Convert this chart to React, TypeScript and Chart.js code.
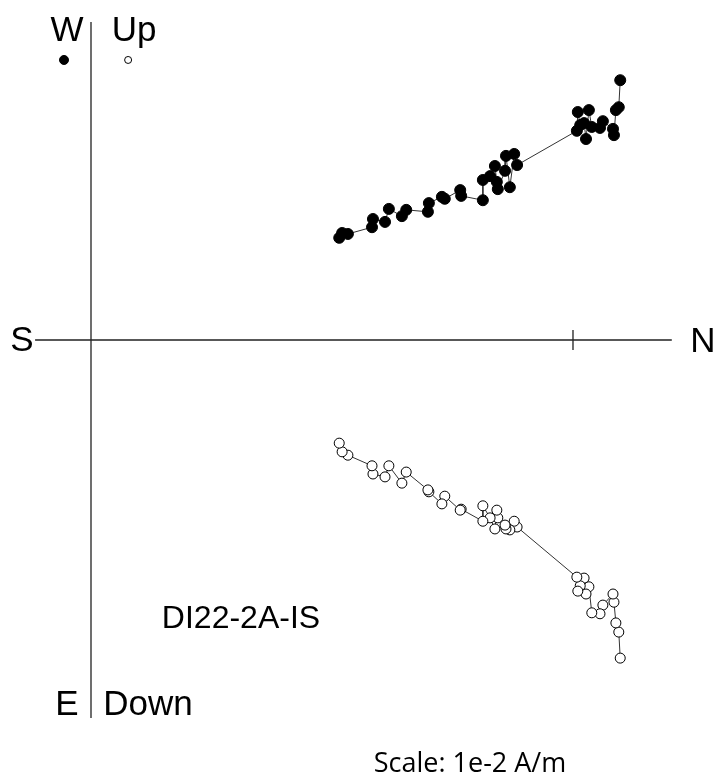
import React, { useEffect, useRef } from "react";
import { Chart, registerables } from "chart.js";

Chart.register(...registerables);

// Demagnetization steps (units of 1e-2 A/m)
const northValues = [
  1.098, 1.095, 1.089, 1.085, 1.083, 1.062, 1.056, 1.039, 1.033, 1.027, 1.023, 1.015, 1.01, 1.008,
  0.884, 0.878, 0.869, 0.861, 0.859, 0.844, 0.842, 0.838, 0.828, 0.813, 0.813, 0.768, 0.766,
  0.734, 0.728, 0.701, 0.699, 0.654, 0.645, 0.618, 0.61, 0.585, 0.583, 0.533, 0.521, 0.515,
];
const westValues = [
  0.539, 0.483, 0.477, 0.425, 0.438, 0.454, 0.44, 0.442, 0.477, 0.417, 0.45, 0.446, 0.473, 0.434,
  0.363, 0.386, 0.317, 0.382, 0.351, 0.313, 0.328, 0.361, 0.34, 0.332, 0.29, 0.299, 0.311,
  0.293, 0.297, 0.284, 0.266, 0.27, 0.257, 0.272, 0.245, 0.251, 0.234, 0.22, 0.222, 0.212,
];
const upValues = [
  -0.66, -0.606, -0.587, -0.544, -0.527, -0.55, -0.568, -0.566, -0.512, -0.527, -0.494, -0.51, -0.521, -0.492,
  -0.388, -0.376, -0.394, -0.392, -0.384, -0.369, -0.353, -0.392, -0.369, -0.344, -0.376, -0.351, -0.353,
  -0.324, -0.34, -0.315, -0.311, -0.274, -0.297, -0.261, -0.284, -0.278, -0.261, -0.239, -0.232, -0.214,
];

const axisLabels = { west: "W", up: "Up", south: "S", north: "N", east: "E", down: "Down" };
const specimenName = "DI22-2A-IS";
const scaleLabel = "Scale: 1e-2 A/m";
const tickValue = 1;

const xRange = [-0.1888, 1.2967];
const yRange = [-0.9025, 0.7054];
const hAxisRange = [-0.116, 1.205];
const vAxisRange = [-0.784, 0.66];
const legendFilled = { x: -0.056, y: 0.581 };
const legendOpen = { x: 0.077, y: 0.581 };

const overlay = {
  id: "zijOverlay",
  beforeDatasetsDraw(chart: any) {
    const ctx = chart.ctx;
    const xs = chart.scales.x;
    const ys = chart.scales.y;
    const x0 = xs.getPixelForValue(0);
    const y0 = ys.getPixelForValue(0);
    ctx.save();
    ctx.strokeStyle = "#222";
    ctx.lineWidth = 1.3;
    ctx.beginPath();
    ctx.moveTo(xs.getPixelForValue(hAxisRange[0]), y0);
    ctx.lineTo(xs.getPixelForValue(hAxisRange[1]), y0);
    ctx.moveTo(x0, ys.getPixelForValue(vAxisRange[1]));
    ctx.lineTo(x0, ys.getPixelForValue(vAxisRange[0]));
    const tx = xs.getPixelForValue(tickValue);
    ctx.moveTo(tx, y0 - 10);
    ctx.lineTo(tx, y0 + 10);
    ctx.stroke();

    ctx.fillStyle = "#000";
    ctx.textAlign = "center";
    ctx.textBaseline = "alphabetic";
    ctx.font = "35px 'Liberation Sans', Arial, sans-serif";
    ctx.fillText(axisLabels.west, 67, 41);
    ctx.fillText(axisLabels.up, 134, 41);
    ctx.fillText(axisLabels.south, 22, 351);
    ctx.fillText(axisLabels.north, 703, 352);
    ctx.fillText(axisLabels.east, 67, 715);
    ctx.fillText(axisLabels.down, 148, 715);
    ctx.font = "32px 'Liberation Sans', Arial, sans-serif";
    ctx.fillText(specimenName, 241, 628);
    ctx.font = "27px 'Open Sans', sans-serif";
    ctx.fillText(scaleLabel, 470, 772);
    ctx.restore();
  },
};

export default function App() {
  const ref = useRef<HTMLCanvasElement | null>(null);
  useEffect(() => {
    if (!ref.current) return;
    const filled = northValues.map((n, i) => ({ x: n, y: westValues[i] }));
    const open = northValues.map((n, i) => ({ x: n, y: upValues[i] }));
    const chart = new Chart(ref.current, {
      type: "scatter",
      data: {
        datasets: [
          {
            data: filled,
            showLine: true,
            borderColor: "#333",
            borderWidth: 1,
            pointRadius: 5.5,
            pointBackgroundColor: "#000",
            pointBorderColor: "#000",
            pointBorderWidth: 1,
          },
          {
            data: open,
            showLine: true,
            borderColor: "#333",
            borderWidth: 1,
            pointRadius: 5,
            pointBackgroundColor: "#fff",
            pointBorderColor: "#000",
            pointBorderWidth: 1,
          },
          {
            data: [legendFilled],
            pointRadius: 4.5,
            pointBackgroundColor: "#000",
            pointBorderColor: "#000",
          },
          {
            data: [legendOpen],
            pointRadius: 3.5,
            pointBackgroundColor: "#fff",
            pointBorderColor: "#000",
            pointBorderWidth: 1,
          },
        ],
      },
      options: {
        animation: false,
        responsive: true,
        maintainAspectRatio: false,
        devicePixelRatio: 1,
        layout: { padding: 0, autoPadding: false },
        plugins: { legend: { display: false }, tooltip: { enabled: false } },
        scales: {
          x: { type: "linear", display: false, min: xRange[0], max: xRange[1] },
          y: { type: "linear", display: false, min: yRange[0], max: yRange[1] },
        },
      },
      plugins: [overlay],
    });
    return () => chart.destroy();
  }, []);
  return (
    <div style={{ position: "absolute", left: 0, top: 0, width: 716, height: 775, background: "#fff" }}>
      <canvas ref={ref} />
    </div>
  );
}
